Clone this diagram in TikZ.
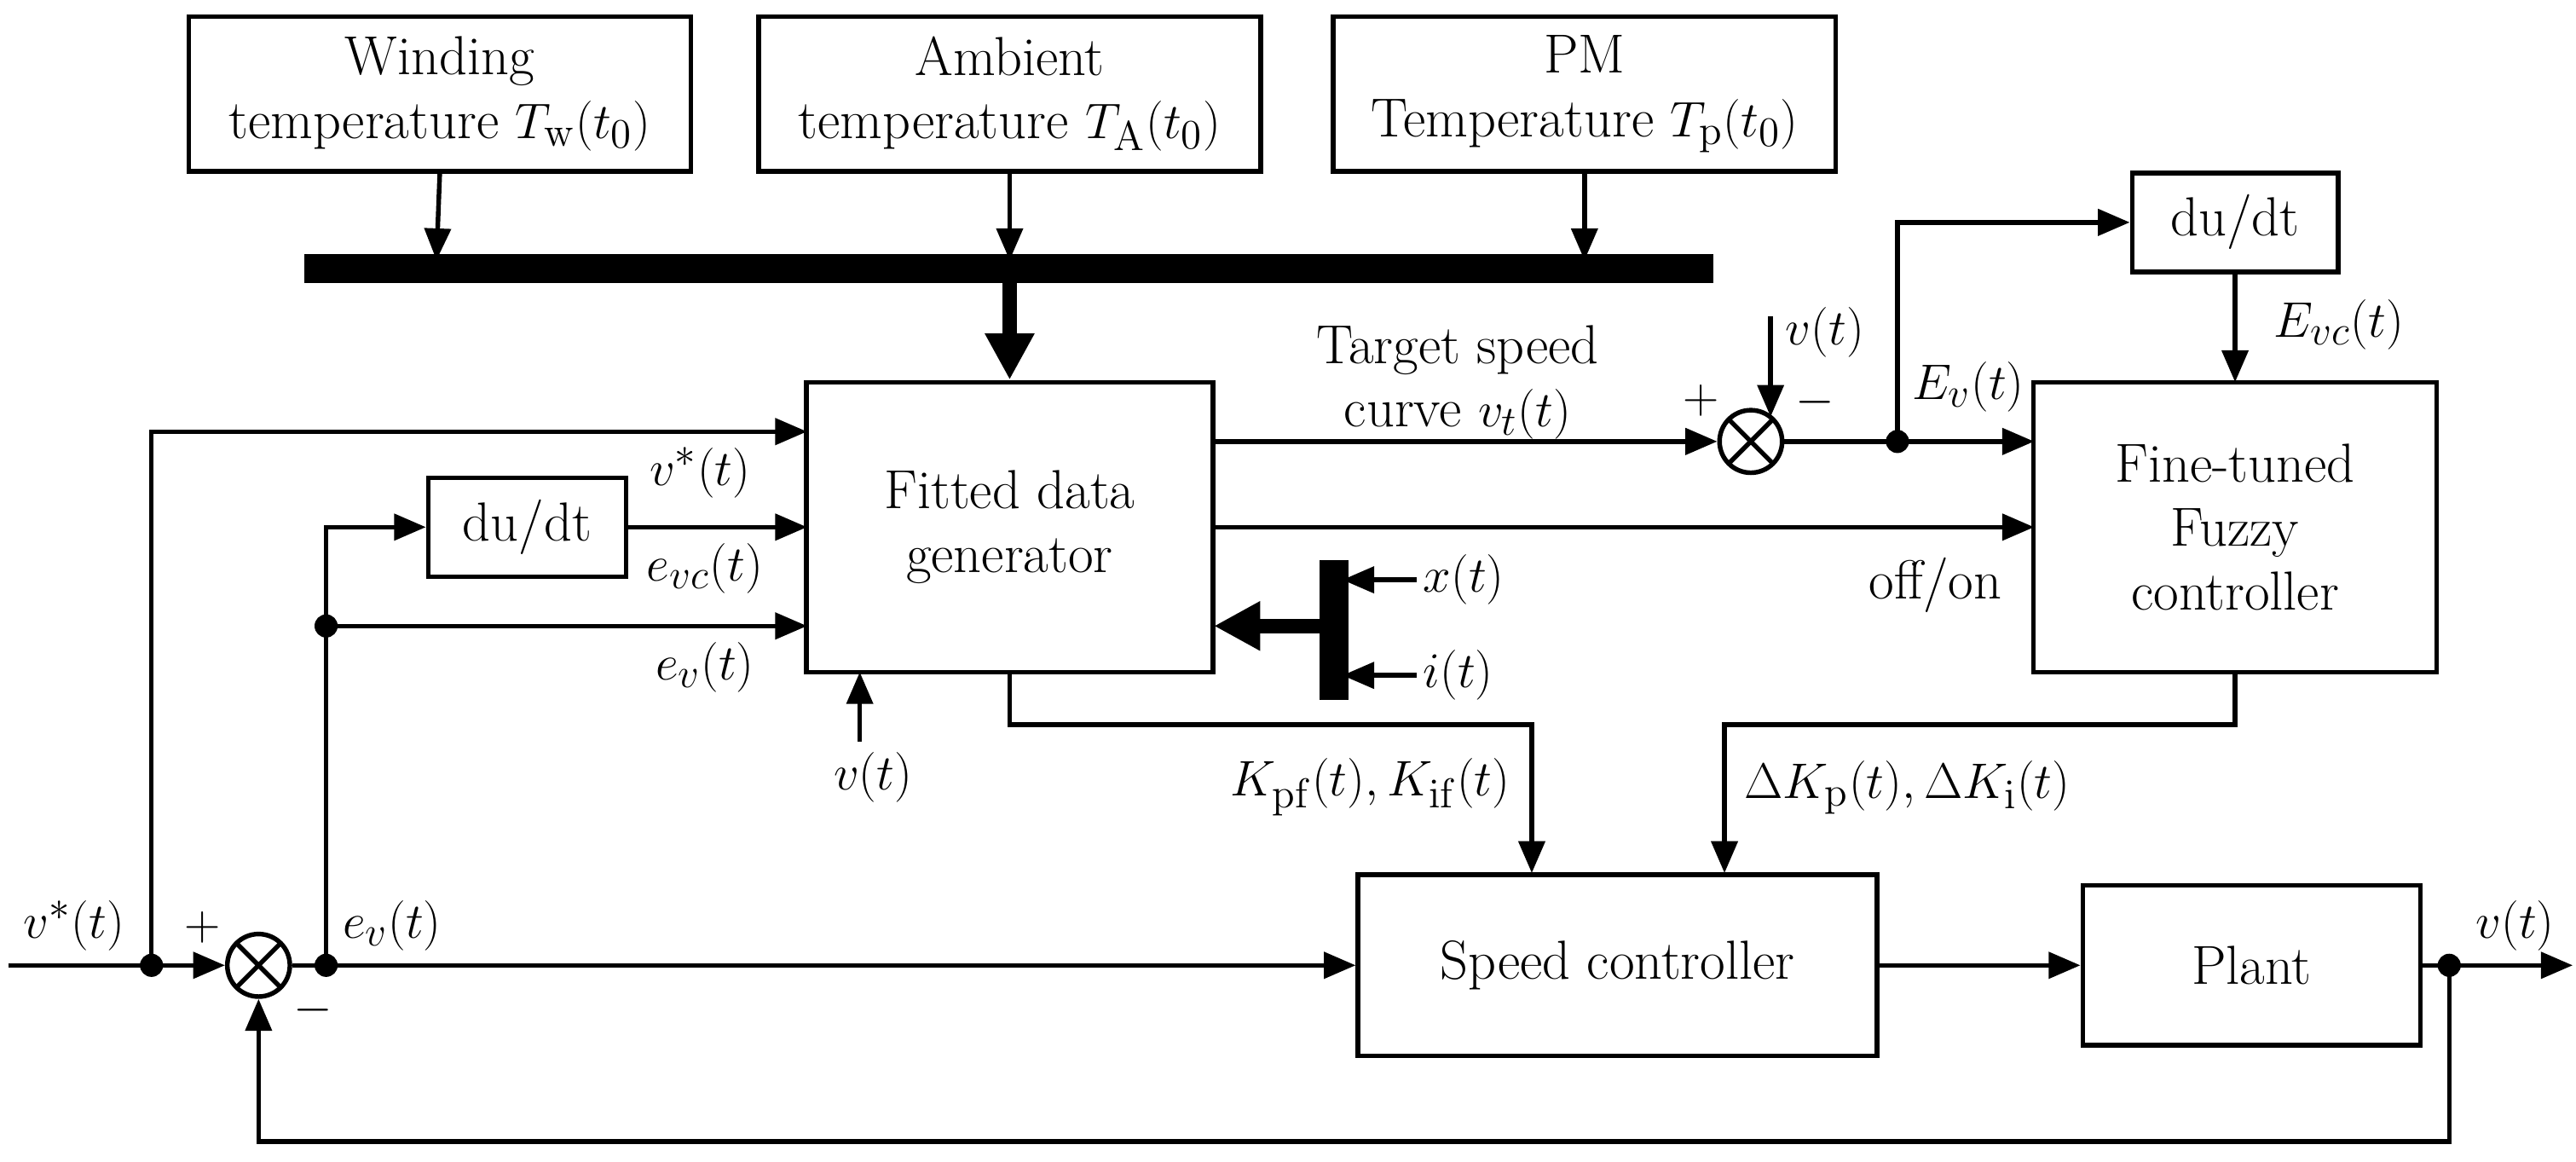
\documentclass[tikz,border=0pt]{standalone}
\usetikzlibrary{arrows.meta}
\begin{document}
\begin{tikzpicture}[x=0.02cm,y=-0.02cm,
  every node/.style={font=\fontsize{19}{22}\selectfont},
  box/.style={draw,line width=1.6pt,align=center,inner sep=0pt},
  ln/.style={line width=1.6pt},
  ar/.style={line width=1.6pt,-{Triangle[length=11pt,width=9pt]}},
  tar/.style={line width=5pt,-{Triangle[length=16pt,width=16pt]}},
  dot/.style={circle,fill,inner sep=0pt,minimum size=8pt},
  sumj/.style={circle,draw,line width=1.6pt,minimum size=0.76cm,inner sep=0pt,path picture={\draw[line width=1.6pt] (path picture bounding box.north west)--(path picture bounding box.south east) (path picture bounding box.north east)--(path picture bounding box.south west);}},
  lab/.style={inner sep=1pt}]
\useasboundingbox (0,0) rectangle (1564,705);
% boxes
\node[box,minimum width=305*0.02cm,minimum height=94*0.02cm] (bw) at (267,57) {Winding\\temperature $T_{\mathrm{w}}(t_0)$};
\node[box,minimum width=305*0.02cm,minimum height=94*0.02cm] (ba) at (613,57) {Ambient\\temperature $T_{\mathrm{A}}(t_0)$};
\node[box,minimum width=305*0.02cm,minimum height=94*0.02cm] (bp) at (962,57) {PM\\Temperature $T_{\mathrm{p}}(t_0)$};
\node[box,minimum width=247*0.02cm,minimum height=176*0.02cm] (fdg) at (613,320) {Fitted data\\generator};
\node[box,minimum width=245*0.02cm,minimum height=176*0.02cm] (ftf) at (1357,320) {Fine-tuned\\Fuzzy\\controller};
\node[box,minimum width=125*0.02cm,minimum height=60*0.02cm] (d2) at (1357,135) {du/dt};
\node[box,minimum width=120*0.02cm,minimum height=60*0.02cm] (d1) at (320,320) {du/dt};
\node[box,minimum width=315*0.02cm,minimum height=110*0.02cm] (sc) at (982,586) {Speed controller};
\node[box,minimum width=205*0.02cm,minimum height=97*0.02cm] (pl) at (1367,586) {Plant};
\node[sumj] (s1) at (157,586) {};
\node[sumj] (s2) at (1063,268) {};
% bars
\coordinate (barL) at (185,163); \coordinate (barR) at (1040,163);
\draw[line width=10pt] (barL)--(barR);
\coordinate (vb1) at (810,340); \coordinate (vb2) at (810,425);
\draw[line width=10pt] (vb1)--(vb2);
% top arrows
\draw[ar] (bw.south)--(265,158);
\draw[ar] (ba.south)--(613,158);
\draw[ar] (bp.south)--(962,158);
\draw[tar] (613,168)--(fdg.north);
% input side
\coordinate (in) at (5,586); \coordinate (d92) at (92,586); \coordinate (d198) at (198,586);
\coordinate (d198b) at (198,380);
\draw[ar] (in)--(s1.west);
\node[dot] at (d92) {}; \node[dot] at (d198) {}; \node[dot] at (d198b) {};
\draw[ar] (d92)--(92,262)--(490,262);
\draw[ln] (s1.east)--(d198);
\draw[ar] (d198)--(sc.west);
\draw[ar] (d198)--(198,320)--(d1.west);
\draw[ar] (d198b)--(490,380);
\draw[ar] (d1.east)--(490,320);
\node[lab] at (425,287) {$v^{*}(t)$};
\node[lab] at (428,345) {$e_{vc}(t)$};
\node[lab] at (428,405) {$e_{v}(t)$};
\node[lab] at (45,562) {$v^{*}(t)$};
\node[lab] at (238,562) {$e_{v}(t)$};
\node[lab] at (123,563) {$+$};
\node[lab] at (190,613) {$-$};
% v(t) into fdg bottom
\coordinate (vin) at (522,450);
\draw[ar] (vin)--(522,408);
\node[lab] at (530,472) {$v(t)$};
% x, i
\draw[ar] (860,352)--(815,352); \node[lab,anchor=west] at (862,352) {$x(t)$};
\draw[ar] (860,410)--(815,410); \node[lab,anchor=west] at (862,410) {$i(t)$};
\draw[tar] (805,380)--(737,380);
% fdg outputs
\draw[ar] (737,268)--(s2.west);
\node[lab,align=center] at (885,232) {Target speed\\curve $v_{t}(t)$};
\draw[ar] (737,320)--(1235,320);
\node[lab] at (1175,355) {off/on};
\draw[ar] (613,408)--(613,440)--(930,440)--(930,530);
\node[lab] at (832,478) {$K_{\mathrm{pf}}(t),K_{\mathrm{if}}(t)$};
\draw[ar] (ftf.south)--(1357,440)--(1047,440)--(1047,530);
\node[lab] at (1158,478) {$\Delta K_{\mathrm{p}}(t),\Delta K_{\mathrm{i}}(t)$};
% sum2
\node[lab] at (1033,243) {$+$};
\node[lab] at (1102,244) {$-$};
\draw[ar] (1075,192)--(1075,253);
\node[lab] at (1108,202) {$v(t)$};
\coordinate (d1152) at (1152,268);
\draw[ar] (s2.east)--(1235,268);
\node[dot] at (d1152) {};
\draw[ar] (d1152)--(1152,135)--(d2.west);
\node[lab] at (1195,235) {$E_{v}(t)$};
\draw[ar] (d2.south)--(1357,232);
\node[lab] at (1420,197) {$E_{vc}(t)$};
% main forward
\draw[ar] (sc.east)--(pl.west);
\coordinate (out) at (1562,586); \coordinate (d1487) at (1487,586);
\draw[ar] (pl.east)--(out);
\node[dot] at (d1487) {};
\node[lab] at (1527,562) {$v(t)$};
\draw[ar] (d1487)--(1487,693)--(157,693)--(s1.south);
\end{tikzpicture}
\end{document}
